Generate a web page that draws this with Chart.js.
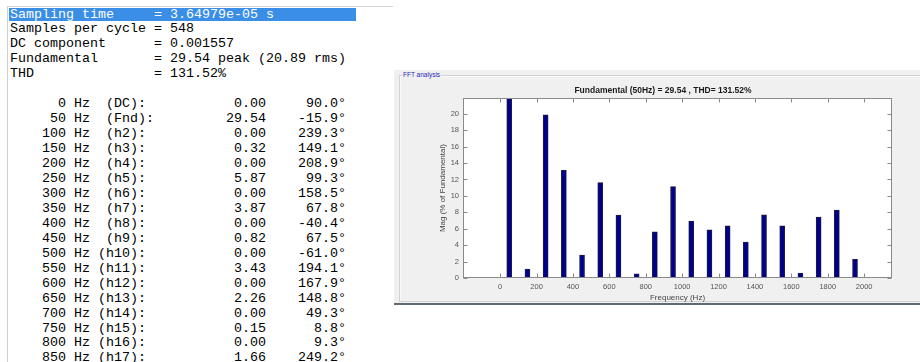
<!DOCTYPE html>
<html>
<head>
<meta charset="utf-8">
<script src="https://cdn.jsdelivr.net/npm/chart.js@4.4.1/dist/chart.umd.min.js"></script>
<style>
body { margin: 0; width: 920px; height: 362px; background: #fff; position: relative; overflow: hidden; }
#console { position: absolute; left: 7px; top: 6px; width: 385px; height: 360px; border-left: 1px solid #cfcfcf; border-top: 1px solid #d6d6d6; }
#hl { position: absolute; left: 9px; top: 8px; width: 347px; height: 13px; background: #3a8ee6; }
#txt { position: absolute; left: 10px; top: 7.5px; margin: 0; font: 13.33px "Liberation Mono", monospace; line-height: 14.95px; color: #000; white-space: pre; }
#txt .sel { color: #fff; }
#panel { position: absolute; left: 394px; top: 70px; width: 526px; height: 233px; background: #f0f0f0; }
#group { position: absolute; left: 5px; top: 5px; width: 540px; height: 225px; border: 1px solid #d2d2d2; box-shadow: inset 1px 1px #fafafa; }
#glabel { position: absolute; left: 8px; top: 1px; font: 6.5px Arial, sans-serif; color: #2a2ab8; background: #f0f0f0; padding: 0 1px; }
#chartBox { position: absolute; left: 0; top: 0; }
#edge { position: absolute; left: 394px; top: 303px; width: 526px; height: 2px; background: #5e6b72; }
</style>
</head>
<body>
<div id="console"></div>
<div id="hl"></div>
<pre id="txt"></pre>
<div id="panel">
  <div id="group"></div>
  <div id="glabel">FFT analysis</div>
  <div id="chartBox"><canvas id="fft" width="526" height="233"></canvas></div>
</div>
<div id="edge"></div>
<script>
// header of the FFT report
const headerNames = ['Sampling time', 'Samples per cycle', 'DC component', 'Fundamental', 'THD'];
const headerValues = ['3.64979e-05 s', '548', '0.001557', '29.54 peak (20.89 rms)', '131.52%'];

// harmonic table (visible rows)
const tableFreqs = [0, 50, 100, 150, 200, 250, 300, 350, 400, 450, 500, 550, 600, 650, 700, 750, 800, 850];
const tableNames = ['DC', 'Fnd', 'h2', 'h3', 'h4', 'h5', 'h6', 'h7', 'h8', 'h9', 'h10', 'h11', 'h12', 'h13', 'h14', 'h15', 'h16', 'h17'];
const tableMags = ['0.00', '29.54', '0.00', '0.32', '0.00', '5.87', '0.00', '3.87', '0.00', '0.82', '0.00', '3.43', '0.00', '2.26', '0.00', '0.15', '0.00', '1.66'];
const tablePhases = ['90.0', '-15.9', '239.3', '149.1', '208.9', '99.3', '158.5', '67.8', '-40.4', '67.5', '-61.0', '194.1', '167.9', '148.8', '49.3', '8.8', '9.3', '249.2'];

// bar chart: magnitude in % of fundamental
const chartFreqs = [50, 150, 250, 350, 450, 550, 650, 750, 850, 950, 1050, 1150, 1250, 1350, 1450, 1550, 1650, 1750, 1850, 1950];
const chartMags = [100, 1.08, 19.87, 13.10, 2.78, 11.61, 7.65, 0.51, 5.62, 11.12, 6.92, 5.87, 6.35, 4.36, 7.70, 6.35, 0.61, 7.41, 8.27, 2.28];

function buildText() {
    const lines = [];
    headerNames.forEach((n, i) => {
        const line = n.padEnd(18) + '= ' + headerValues[i];
        lines.push(i === 0 ? '<span class="sel">' + line + '</span>' : line);
    });
    lines.push('');
    tableFreqs.forEach((f, i) => {
        let s = '    ' + String(f).padStart(3) + ' Hz';
        const name = tableNames[i];
        s += (name.length === 3 && name[0] === 'h' ? ' (' : '  (') + name + '):';
        s += tableMags[i].padStart(32 - s.length);
        s += (tablePhases[i] + '°').padStart(42 - s.length);
        lines.push(s);
    });
    document.getElementById('txt').innerHTML = lines.join('\n');
}

// MATLAB style box with inward ticks on all four sides
const matlabBox = {
    id: 'matlabBox',
    beforeDraw(chart) {
        const { ctx, chartArea: a } = chart;
        ctx.save();
        ctx.fillStyle = '#fff';
        ctx.fillRect(a.left, a.top, a.right - a.left, a.bottom - a.top);
        ctx.restore();
    },
    afterDraw(chart) {
        const { ctx, chartArea: a, scales: { x, y } } = chart;
        const L = Math.round(a.left) + 0.5, R = Math.round(a.right) - 0.5;
        const T = Math.round(a.top) + 0.5, B = Math.round(a.bottom) - 0.5;
        ctx.save();
        ctx.strokeStyle = '#8a8a8a';
        ctx.lineWidth = 1;
        ctx.beginPath();
        x.ticks.forEach(t => {
            const px = Math.round(x.getPixelForValue(t.value)) + 0.5;
            ctx.moveTo(px, B); ctx.lineTo(px, B - 4);
            ctx.moveTo(px, T); ctx.lineTo(px, T + 4);
        });
        y.ticks.forEach(t => {
            const py = Math.round(y.getPixelForValue(t.value)) + 0.5;
            ctx.moveTo(L, py); ctx.lineTo(L + 4, py);
            ctx.moveTo(R, py); ctx.lineTo(R - 4, py);
        });
        ctx.stroke();
        ctx.strokeRect(L, T, R - L, B - T);
        ctx.restore();
    }
};

function renderChart() {
    const ctx = document.getElementById('fft').getContext('2d');
    new Chart(ctx, {
        type: 'bar',
        data: {
            datasets: [{
                data: chartFreqs.map((f, i) => ({ x: f, y: chartMags[i] })),
                backgroundColor: '#00008a',
                borderColor: '#1c1c48',
                borderWidth: 1,
                barThickness: 5
            }]
        },
        options: {
            responsive: false,
            animation: false,
            layout: { padding: { left: 40, right: 28, top: 0, bottom: 0 } },
            plugins: {
                legend: { display: false },
                tooltip: { enabled: false },
                title: {
                    display: true,
                    text: 'Fundamental (50Hz) = 29.54 , THD= 131.52%',
                    font: { family: 'Arial', size: 8.5, weight: 'bold' },
                    color: '#1a1a1a',
                    padding: { top: 16, bottom: 2 }
                }
            },
            scales: {
                x: {
                    type: 'linear',
                    min: -97,
                    max: 2046,
                    grid: { display: false, drawTicks: false },
                    border: { display: false },
                    ticks: { stepSize: 200, includeBounds: false, autoSkip: false, maxRotation: 0,
                             callback: v => String(v),
                             font: { family: 'Arial', size: 7.5 }, color: '#555', padding: 4 },
                    title: { display: true, text: 'Frequency (Hz)', font: { family: 'Arial', size: 8 },
                             color: '#444', padding: { top: 0, bottom: 0 } },
                    afterFit(s) { s.height = 25; }
                },
                y: {
                    min: 0,
                    max: 21.9,
                    grid: { display: false, drawTicks: false },
                    border: { display: false },
                    ticks: { stepSize: 2, includeBounds: false, font: { family: 'Arial', size: 7.5 }, color: '#555', padding: 4 },
                    title: { display: true, text: 'Mag (% of Fundamental)', font: { family: 'Arial', size: 8 },
                             color: '#444', padding: { top: 4, bottom: 0 } },
                    afterFit(s) { s.width = 29; }
                }
            }
        },
        plugins: [matlabBox]
    });
}

buildText();
renderChart();
</script>
</body>
</html>
